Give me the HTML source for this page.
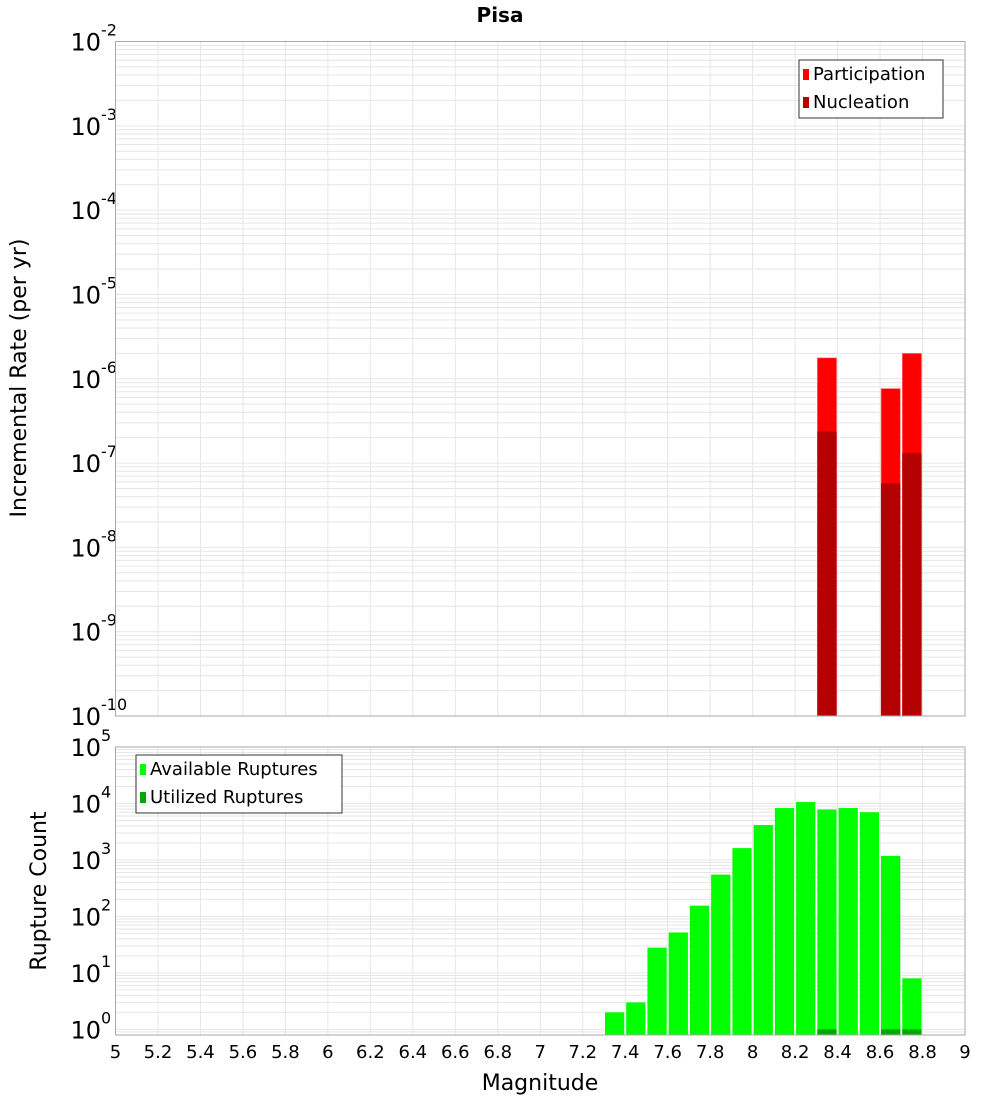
<!DOCTYPE html>
<html><head><meta charset="utf-8"><style>
body{margin:0;background:#fff;}
svg{display:block;font-family:"DejaVu Sans","Liberation Sans",sans-serif;}
</style></head><body>
<svg id="c" width="1000" height="1100" xmlns="http://www.w3.org/2000/svg">
<text x="500" y="22" text-anchor="middle" font-weight="bold" font-size="20">Pisa</text>
<g id="toppanel"></g>
<g id="botpanel"></g>
</svg>
<script>
const binCenters = [8.35, 8.65, 8.75];
const participation = [1.77e-6, 7.65e-7, 2.0e-6];
const nucleation = [2.37e-7, 5.73e-8, 1.31e-7];
const countBins = [7.35,7.45,7.55,7.65,7.75,7.85,7.95,8.05,8.15,8.25,8.35,8.45,8.55,8.65,8.75];
const available = [2,3,28,52,155,550,1620,4150,8300,10600,7800,8300,7000,1180,8];
const utilizedBins = [8.35, 8.65, 8.75];
const utilized = [1, 1, 1];
const xTicks = [5,5.2,5.4,5.6,5.8,6,6.2,6.4,6.6,6.8,7,7.2,7.4,7.6,7.8,8,8.2,8.4,8.6,8.8,9];
const topExps = [-2,-3,-4,-5,-6,-7,-8,-9,-10];
const botExps = [5,4,3,2,1,0];

const NS="http://www.w3.org/2000/svg";
const X0=115.5,X1=965;
const xs=v=>X0+(v-5)/4*(X1-X0);
const TT=41.5,TB=716;
const yT=v=>TT+(-2-Math.log10(v))/8*(TB-TT);
const BT=747,BB=1035;
const yB=v=>BT+(5-Math.log10(v))/5.1*(BB-BT);
function mk(p,tag,a,txt){const e=document.createElementNS(NS,tag);for(const k in a)e.setAttribute(k,a[k]);if(txt!==undefined)e.textContent=txt;p.appendChild(e);return e;}
const gTop=document.getElementById('toppanel'),gBot=document.getElementById('botpanel');
const svgRoot=document.getElementById('c');

function panel(g,T,B,yf,loE,hiE){
  mk(g,'rect',{x:X0,y:T,width:X1-X0,height:B-T,fill:'#fff'});
  for(let e=loE;e<hiE;e++)for(let m=1;m<10;m++){const v=m*Math.pow(10,e);const yy=yf(v);if(yy<T||yy>B)continue;
    const l=mk(g,'line',{x1:X0,x2:X1,y1:yy,y2:yy,stroke:'#e6e6e6','stroke-width':1});
    
    }
  xTicks.forEach(t=>{const l=mk(g,'line',{x1:xs(t),x2:xs(t),y1:T,y2:B,stroke:'#e6e6e6','stroke-width':1});
    
    });
}
panel(gTop,TT,TB,yT,-10,-2);
panel(gBot,BT,BB,yB,-1,5);

const bw=xs(5.1)-xs(5)-2;
binCenters.forEach((c,i)=>{
  const r=mk(gTop,'rect',{x:xs(c)-bw/2,y:yT(participation[i]),width:bw,height:TB-yT(participation[i]),fill:'#ff0000',stroke:'#ff8080','stroke-width':0.6});
  
  
  const n=mk(gTop,'rect',{x:xs(c)-bw/2,y:yT(nucleation[i]),width:bw,height:TB-yT(nucleation[i]),fill:'#b30000'});
  
  
});
countBins.forEach((c,i)=>{
  const r=mk(gBot,'rect',{x:xs(c)-bw/2,y:yB(available[i]),width:bw,height:BB-yB(available[i]),fill:'#00ff00'});
  
  
});
utilizedBins.forEach((c,i)=>{
  const r=mk(gBot,'rect',{x:xs(c)-bw/2,y:yB(utilized[i]),width:bw,height:BB-yB(utilized[i]),fill:'#00a800'});
  
  
});
[[TT,TB],[BT,BB]].forEach(([a,b])=>{const f=mk(svgRoot,'rect',{x:X0,y:a,width:X1-X0,height:b-a,fill:'none',stroke:'#aaa','stroke-width':1});
  
  });

function ylab(g,yy,e){
  const t=mk(g,'text',{x:101,y:yy+9,'text-anchor':'end','font-size':24},'10');
  
  
  const s=mk(g,'text',{x:101,y:yy-6,'font-size':16},String(e));
  
  
}
topExps.forEach(e=>ylab(gTop,yT(Math.pow(10,e)),e));
botExps.forEach(e=>ylab(gBot,yB(Math.pow(10,e)),e));
xTicks.forEach(t=>{const l=mk(gBot,'text',{x:xs(t),y:1058,'text-anchor':'middle','font-size':18},String(t));
  
  });

const xt=mk(gBot,'text',{x:540,y:1090,'text-anchor':'middle','font-size':22},'Magnitude');


const yt1=mk(gTop,'text',{x:0,y:0,'text-anchor':'middle','font-size':22,transform:'translate(26,378) rotate(-90)'},'Incremental Rate (per yr)');


const yt2=mk(gBot,'text',{x:0,y:0,'text-anchor':'middle','font-size':22,transform:'translate(46,891) rotate(-90)'},'Rupture Count');



function legend(g,bx,by,w,items){
  const box=mk(g,'rect',{x:bx,y:by,width:w,height:58,fill:'#fff',stroke:'#333','stroke-width':1});
  
  
  items.forEach(([lab,col],i)=>{
    const sw=mk(g,'rect',{x:bx+4,y:by+9+i*28,width:6,height:11,fill:col});
    
    
    const t=mk(g,'text',{x:bx+14,y:by+20+i*28,'font-size':18},lab);
    
    
  });
}
legend(gTop,799,60,144,[['Participation','#ff0000'],['Nucleation','#b30000']]);
legend(gBot,136,755,206,[['Available Ruptures','#00ff00'],['Utilized Ruptures','#00a800']]);
</script>
</body></html>
